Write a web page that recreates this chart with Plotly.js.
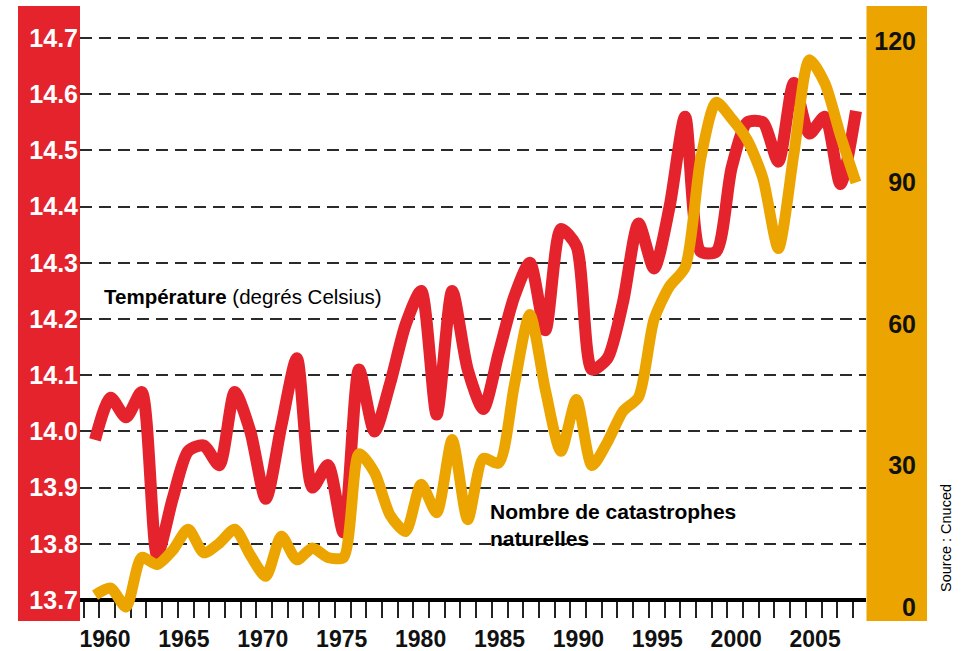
<!DOCTYPE html>
<html>
<head>
<meta charset="utf-8">
<script src="https://cdn.plot.ly/plotly-3.0.1.min.js"></script>
<style>
  html, body { margin: 0; padding: 0; background: #fff; }
  #chart { width: 975px; height: 651px; }
</style>
</head>
<body>
<div id="chart"></div>
<script>
// ---------- data ----------
const years = [1960,1961,1962,1963,1964,1965,1966,1967,1968,1969,
               1970,1971,1972,1973,1974,1975,1976,1977,1978,1979,
               1980,1981,1982,1983,1984,1985,1986,1987,1988,1989,
               1990,1991,1992,1993,1994,1995,1996,1997,1998,1999,
               2000,2001,2002,2003,2004,2005,2006,2007,2008,2009];

const temperature = [13.985,14.06,14.025,14.07,13.78,13.88,13.965,13.975,13.94,14.07,
                     14.0,13.88,14.01,14.13,13.90,13.94,13.82,14.11,14.0,14.085,
                     14.19,14.25,14.03,14.25,14.11,14.04,14.14,14.24,14.30,14.18,
                     14.36,14.33,14.11,14.13,14.23,14.37,14.29,14.40,14.56,14.32,
                     14.32,14.47,14.55,14.55,14.48,14.62,14.53,14.56,14.44,14.57];

const disasters = [2.5,4,0,10.5,9,12,16.5,11.5,13.5,16.5,
                   11,6.5,15,10,12.5,10.5,10.5,32.5,28.5,19.5,
                   16,26,20,35.5,18.5,31.5,30.5,47,62,46,
                   33,44,30,35,41.5,44.5,61,68,72,95,
                   107,103.5,99,91,76,96,116,111,100,90];

const xTickLabels = [1960,1965,1970,1975,1980,1985,1990,1995,2000,2005];
const tempTicks = [13.7,13.8,13.9,14.0,14.1,14.2,14.3,14.4,14.5,14.6,14.7];
const disasterTicks = [0,30,60,90,120];

const labelTemp = "<b>Température</b> (degrés Celsius)";
const labelDis1 = "<b>Nombre de catastrophes</b>";
const labelDis2 = "<b>naturelles</b>";
const sourceText = "Source : Cnuced";

// ---------- styling / geometry ----------
const W = 975, H = 651;
const M = {l: 80, r: 40, t: 30, b: 36};
const PW = W - M.l - M.r;
const PH = H - M.t - M.b;
const pX = px => (px - M.l) / PW;
const pY = py => (H - M.b - py) / PH;

const RED = '#e4232d';
const ORANGE = '#eca500';
const SANS = "'Liberation Sans', Arial, sans-serif";

// x scale: data year -> pixel
const X0PX = 95, XSTEP = 15.53;
const yr = px => 1960 + (px - X0PX) / XSTEP;
const tickStartYear = yr(99.3);
const tickStep = 15.7 / XSTEP;
const labelPos = xTickLabels.map(L => yr(105 + (L - 1960) * 15.78));

const traces = [
  {
    x: years, y: temperature, type: 'scatter', mode: 'lines',
    line: {color: RED, width: 12, shape: 'spline', smoothing: 0.7},
    hoverinfo: 'skip', yaxis: 'y'
  },
  {
    x: years, y: disasters, type: 'scatter', mode: 'lines',
    line: {color: ORANGE, width: 11, shape: 'spline', smoothing: 0.7},
    hoverinfo: 'skip', yaxis: 'y2'
  }
];

const layout = {
  width: W, height: H,
  margin: M,
  showlegend: false,
  paper_bgcolor: '#fff',
  plot_bgcolor: 'rgba(0,0,0,0)',
  xaxis: {
    domain: [0, pX(866)],
    range: [yr(80), yr(866)],
    anchor: 'free',
    position: pY(600),
    showline: true, linecolor: '#000', linewidth: 4,
    showgrid: false, zeroline: false,
    tickmode: 'array', tickvals: labelPos, ticktext: xTickLabels.map(String),
    ticks: '',
    ticklabelstandoff: 17,
    tickfont: {family: SANS, size: 23, color: '#111', weight: 'bold'},
    minor: {tick0: tickStartYear, dtick: tickStep, ticks: 'outside', ticklen: 16,
            tickwidth: 2, tickcolor: '#222', showgrid: false},
    layer: 'below traces',
    fixedrange: true
  },
  yaxis: {
    range: [13.7 - 15/562, 14.7 + 8/562],
    tickmode: 'array', tickvals: tempTicks, ticktext: tempTicks.map(v => v.toFixed(1)),
    ticks: '', showline: false, zeroline: false,
    showgrid: true, gridcolor: '#2a2a2a', gridwidth: 2, griddash: '12px,7px',
    tickfont: {family: SANS, size: 25, color: '#fff', weight: 'bold'},
    ticklabelstandoff: 1,
    fixedrange: true
  },
  yaxis2: {
    overlaying: 'y', anchor: 'free', side: 'left',
    position: pX(916),
    range: [-(615 - 607) / 4.7167, (607 - 30) / 4.7167],
    tickmode: 'array', tickvals: disasterTicks, ticktext: disasterTicks.map(String),
    ticks: '', showline: false, zeroline: false, showgrid: false,
    tickfont: {family: SANS, size: 25, color: '#111', weight: 'bold'},
    fixedrange: true
  },
  shapes: [
    {type: 'rect', xref: 'paper', yref: 'paper', layer: 'below',
     x0: pX(18), x1: pX(80), y0: pY(621), y1: pY(6),
     fillcolor: RED, line: {width: 0}},
    {type: 'rect', xref: 'paper', yref: 'paper', layer: 'below',
     x0: pX(866.5), x1: pX(927), y0: pY(621), y1: pY(6),
     fillcolor: ORANGE, line: {width: 0}}
  ],
  annotations: [
    {text: labelTemp, xref: 'paper', yref: 'paper', x: pX(102), y: pY(296),
     xanchor: 'left', yanchor: 'middle', showarrow: false,
     font: {family: SANS, size: 20.5, color: '#000'}},
    {text: labelDis1, xref: 'paper', yref: 'paper', x: pX(488), y: pY(511),
     xanchor: 'left', yanchor: 'middle', showarrow: false,
     font: {family: SANS, size: 21, color: '#000'}},
    {text: labelDis2, xref: 'paper', yref: 'paper', x: pX(488), y: pY(538),
     xanchor: 'left', yanchor: 'middle', showarrow: false,
     font: {family: SANS, size: 21, color: '#000'}},
    {text: sourceText, xref: 'paper', yref: 'paper', x: pX(946), y: pY(538),
     xanchor: 'center', yanchor: 'middle', textangle: -90, showarrow: false,
     font: {family: SANS, size: 14.5, color: '#000'}}
  ]
};

Plotly.newPlot('chart', traces, layout, {displayModeBar: false, staticPlot: true});
</script>
</body>
</html>
